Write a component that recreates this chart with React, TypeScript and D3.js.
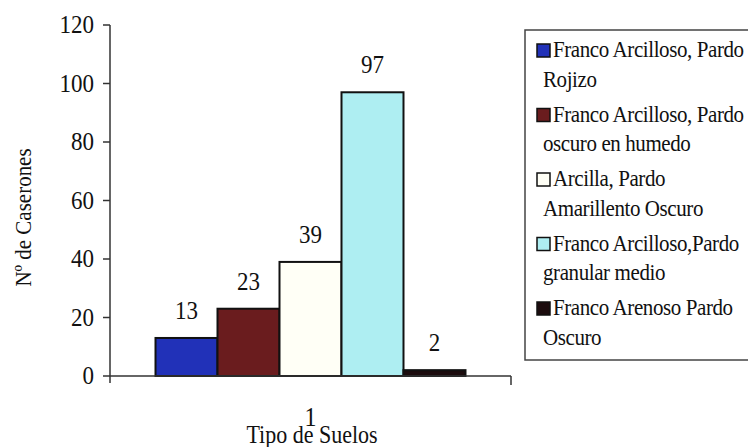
import React from "react";
import * as d3 from "d3";

const categories = ["1"];
const seriesNames = [
  "Franco Arcilloso, Pardo Rojizo",
  "Franco Arcilloso, Pardo oscuro en humedo",
  "Arcilla, Pardo Amarillento Oscuro",
  "Franco Arcilloso,Pardo granular medio",
  "Franco Arenoso Pardo Oscuro",
];
const legendLines = [
  ["Franco Arcilloso, Pardo", "Rojizo"],
  ["Franco Arcilloso, Pardo", "oscuro en humedo"],
  ["Arcilla, Pardo", "Amarillento Oscuro"],
  ["Franco Arcilloso,Pardo", "granular medio"],
  ["Franco Arenoso Pardo", "Oscuro"],
];
const values = [13, 23, 39, 97, 2];
const colors = ["#2131b8", "#6a1c1e", "#fffff6", "#aeeef2", "#1c0c0e"];
const yTicks = [0, 20, 40, 60, 80, 100, 120];
const yTitle = "Nº de Caserones";
const xTitle = "Tipo de Suelos";

const FONT = "'Liberation Serif', 'Times New Roman', Times, 'DejaVu Serif', serif";

function T(props: {
  x: number;
  y: number;
  size: number;
  anchor?: string;
  rotate?: number;
  spacing?: number;
  children: React.ReactNode;
}) {
  const { x, y, size, anchor = "start", rotate = 0, spacing = 0, children } = props;
  const tr = `translate(${x},${y}) rotate(${rotate}) scale(1,1.13)`;
  return (
    <text
      transform={tr}
      textAnchor={anchor as any}
      fontSize={size}
      fill="#111"
      letterSpacing={spacing}
      style={{ fontFamily: FONT }}
    >
      {children}
    </text>
  );
}

export default function App() {
  const W = 748;
  const H = 447;
  const left = 110;
  const right = 511;
  const top = 25;
  const bottom = 376;

  const y = d3.scaleLinear().domain([0, 120]).range([bottom, top]);
  const x0 = d3.scaleBand<string>().domain(categories).range([left, right]).padding(0);
  const x1 = d3
    .scaleBand<string>()
    .domain(seriesNames)
    .range([0, x0.bandwidth()])
    .paddingInner(0)
    .paddingOuter(0.734);

  const legendX = 525;
  const legendTop = 30;
  const legendBottom = 360;
  const itemY0 = 57;
  const itemStep = 64.5;
  const lineStep = 29.5;

  return (
    <svg
      width={W}
      height={H}
      style={{ position: "absolute", left: 0, top: 0, background: "#fff" }}
    >
      <rect x={0} y={0} width={W} height={H} fill="#fff" />
      {categories.map((c) => (
        <g key={c} transform={`translate(${x0(c)},0)`}>
          {seriesNames.map((s, i) => (
            <rect
              key={s}
              x={x1(s)}
              y={y(values[i])}
              width={x1.bandwidth()}
              height={y(0) - y(values[i])}
              fill={colors[i]}
              stroke="#111"
              strokeWidth={2}
            />
          ))}
          {seriesNames.map((s, i) => (
            <T
              key={s + "l"}
              x={(x1(s) as number) + x1.bandwidth() / 2}
              y={y(values[i]) - 19}
              size={23}
              anchor="middle"
            >
              {values[i]}
            </T>
          ))}
        </g>
      ))}
      <line x1={left} x2={left} y1={y(120)} y2={bottom + 7} stroke="#333" strokeWidth={1.5} />
      {yTicks.map((t) => (
        <g key={t}>
          <line x1={left - 7} x2={left} y1={y(t)} y2={y(t)} stroke="#333" strokeWidth={1.5} />
          <T x={94} y={y(t) + 8} size={23} anchor="end">
            {t}
          </T>
        </g>
      ))}
      <line x1={left} x2={right} y1={bottom} y2={bottom} stroke="#333" strokeWidth={1.5} />
      <line x1={right} x2={right} y1={bottom} y2={bottom + 9} stroke="#333" strokeWidth={1.5} />
      {categories.map((c) => (
        <T key={c} x={(x0(c) as number) + x0.bandwidth() / 2} y={426} size={24} anchor="middle">
          {c}
        </T>
      ))}
      <T x={312} y={443} size={22} anchor="middle">
        {xTitle}
      </T>
      <T x={31} y={(145 + 290) / 2} size={21} anchor="middle" rotate={-90}>
        {yTitle}
      </T>
      <rect
        x={legendX}
        y={legendTop}
        width={W + 10 - legendX}
        height={legendBottom - legendTop}
        fill="#fff"
        stroke="#444"
        strokeWidth={1.5}
      />
      {legendLines.map((lines, i) => {
        const by = itemY0 + i * itemStep;
        return (
          <g key={i}>
            <rect
              x={537}
              y={by - 13}
              width={13}
              height={13}
              fill={colors[i]}
              stroke="#111"
              strokeWidth={1.5}
            />
            <T x={553} y={by} size={21} spacing={-0.4}>
              {lines[0]}
            </T>
            <T x={543} y={by + lineStep} size={21} spacing={-0.4}>
              {lines[1]}
            </T>
          </g>
        );
      })}
    </svg>
  );
}
